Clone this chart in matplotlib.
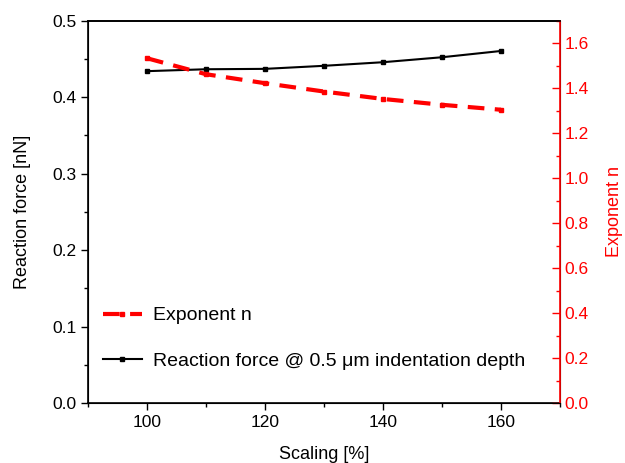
import matplotlib
matplotlib.use("Agg")
import matplotlib.pyplot as plt
from matplotlib.ticker import MultipleLocator

plt.rcParams['font.family'] = ['Liberation Sans', 'DejaVu Sans']

# data
scaling = [100, 110, 120, 130, 140, 150, 160]
reaction_force = [0.434, 0.4365, 0.437, 0.441, 0.4457, 0.4522, 0.4604]
exponent_n = [1.533, 1.462, 1.422, 1.385, 1.352, 1.326, 1.304]

fig = plt.figure(figsize=(6.25, 4.63), dpi=100)
ax = fig.add_axes([0.1408, 0.1296, 0.7552, 0.8257])
ax2 = ax.twinx()

# black curve on the left axis
l1, = ax.plot(scaling, reaction_force, color='black', lw=1.5, marker='s', ms=3,
              label='Reaction force @ 0.5 \u03bcm indentation depth')
# red dashed on the right axis
l2, = ax2.plot(scaling, exponent_n, color='red', lw=3, ls=(0, (4, 2.5)), marker='s', ms=3,
               label='Exponent n')

ax.set_xlim(90, 170)
ax.set_ylim(0, 0.5)
ax2.set_ylim(0, 1.7)

ax.xaxis.set_major_locator(MultipleLocator(20))
ax.xaxis.set_minor_locator(MultipleLocator(10))
ax.yaxis.set_major_locator(MultipleLocator(0.1))
ax.yaxis.set_minor_locator(MultipleLocator(0.05))
ax2.yaxis.set_major_locator(MultipleLocator(0.2))
ax2.yaxis.set_minor_locator(MultipleLocator(0.1))

ax.tick_params(axis='both', which='major', length=5, width=1, labelsize=12.5, direction='out')
ax.tick_params(axis='both', which='minor', length=3, width=1, direction='out')
ax2.tick_params(axis='y', which='major', length=6, width=1, labelsize=12.5, direction='in',
                colors='red')
ax2.tick_params(axis='y', which='minor', length=3, width=1, direction='in', colors='red')

for s in ['left', 'bottom', 'top']:
    ax.spines[s].set_linewidth(1.2)
ax2.spines['right'].set_color('red')
ax2.spines['right'].set_linewidth(1.2)
ax2.spines['top'].set_linewidth(1.2)

ax.set_xlabel('Scaling [%]', fontsize=13, labelpad=12)
ax.set_ylabel('Reaction force [nN]', fontsize=13, labelpad=15)
ax2.set_ylabel('Exponent n', fontsize=13, color='red', labelpad=12)

ax.legend([l2, l1], [l2.get_label(), l1.get_label()], loc='lower left',
          bbox_to_anchor=(-0.006, 0.04), frameon=False, fontsize=14.0,
          handlelength=2.0, labelspacing=1.45, handletextpad=0.6)

fig.savefig('out.png', dpi=100)
